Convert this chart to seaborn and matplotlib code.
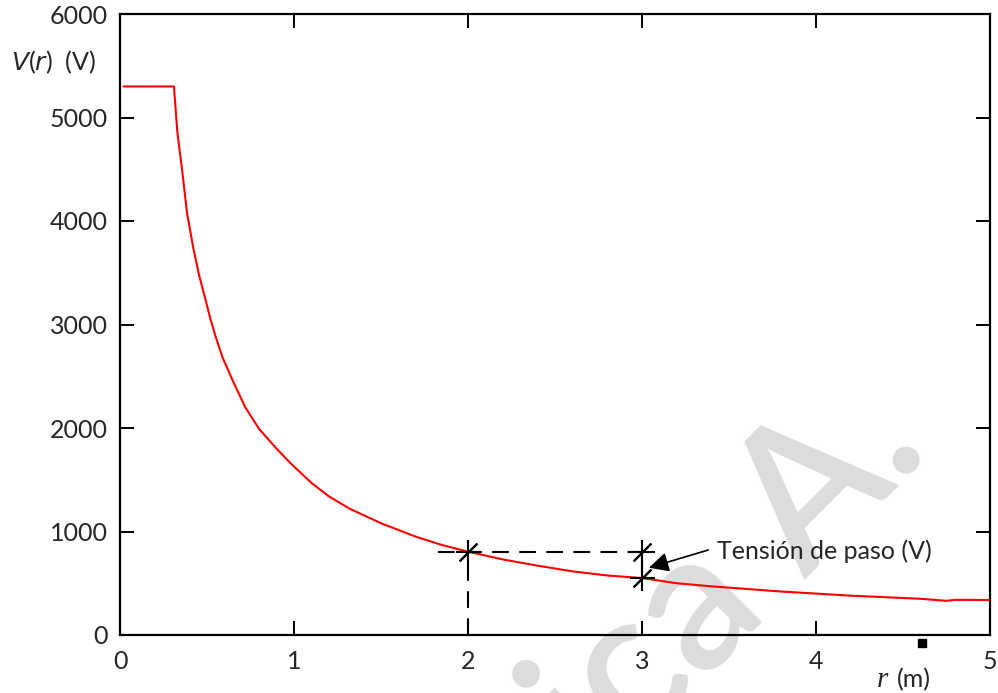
import numpy as np
import pandas as pd
import matplotlib
matplotlib.use('Agg')
import matplotlib.pyplot as plt
import seaborn as sns

# curve V(r)
r_m = [0.02, 0.30, 0.31, 0.33, 0.36, 0.385, 0.42, 0.454, 0.49, 0.517, 0.55,
       0.59, 0.65, 0.72, 0.80, 0.90, 0.98, 1.10, 1.20, 1.32, 1.50, 1.70,
       1.85, 2.00, 2.20, 2.40, 2.60, 2.80, 3.00, 3.20, 3.40, 3.60, 3.80,
       4.00, 4.20, 4.40, 4.60, 4.75, 4.80, 5.00]
v_volt = [5300, 5300, 5300, 4850, 4450, 4080, 3750, 3480, 3250, 3070, 2880,
          2680, 2450, 2200, 1990, 1800, 1660, 1470, 1340, 1220, 1080, 950,
          870, 805, 730, 670, 615, 575, 550, 500, 470, 445, 420,
          400, 380, 365, 350, 330, 340, 338]

# step voltage construction
step_r = [2, 3]
v_hi = 805
v_lo = 550
dash_start_r = 1.83
note_text = 'Tensión de paso (V)'
note_xy = (3.04, 650)
note_pos = (3.43, 812)

x_ticks = [0, 1, 2, 3, 4, 5]
y_ticks = [0, 1000, 2000, 3000, 4000, 5000, 6000]

df = pd.DataFrame({'r': r_m, 'V': v_volt})

sns.set_style('ticks')
plt.rcParams['font.family'] = ['Lato', 'DejaVu Sans']
fs = 18

fig = plt.figure(figsize=(9.98, 6.93), dpi=100)
ax = fig.add_axes([120 / 998, 1 - 635 / 693, 870 / 998, 621 / 693])

# watermark
ax.text(0.69, 0.11, 'nica A.', transform=fig.transFigure, rotation=45,
        fontsize=140, color='#dcdcdc', ha='center', va='center',
        weight='semibold', zorder=0.5, clip_on=False)

sns.lineplot(data=df, x='r', y='V', color='red', lw=1.5,
             estimator=None, sort=False, ax=ax, zorder=3)

# dashed guides and step segment
ax.plot([dash_start_r, step_r[1]], [v_hi, v_hi], color='k', lw=1.5,
        dashes=(8, 5), zorder=4)
ax.plot([step_r[0], step_r[0]], [0, v_hi], color='k', lw=1.5,
        dashes=(8, 5), zorder=4)
ax.plot([step_r[1], step_r[1]], [v_lo, v_hi], color='k', lw=1.5, zorder=4)

mark_r = [step_r[0], step_r[1], step_r[1]]
mark_v = [v_hi, v_hi, v_lo]
ax.plot(mark_r, mark_v, ls='none', marker='+', ms=18, mew=1.5,
        color='k', zorder=5)
ax.plot(mark_r, mark_v, ls='none', marker=(2, 2, -45), ms=18, mew=1.5,
        color='k', zorder=5)

ax.annotate(note_text, xy=note_xy, xytext=note_pos, fontsize=fs,
            va='center', ha='left',
            arrowprops=dict(arrowstyle='-|>', color='k', lw=1.2,
                            mutation_scale=30, shrinkA=4, shrinkB=0,
                            relpos=(0, 0.65)))

# small square below the axis
ax.plot([4.61], [-75], ls='none', marker='s', ms=6, color='k',
        clip_on=False, zorder=5)

ax.set_xlim(0, 5)
ax.set_ylim(0, 6000)
ax.set_xticks(x_ticks)
ax.set_yticks(y_ticks)
ax.set_xticklabels([str(t) for t in x_ticks])
ax.set_yticklabels([str(t) for t in y_ticks])
ax.tick_params(direction='in', length=10, width=1.4, labelsize=fs,
               top=True, right=True, color='k')
ax.tick_params(axis='x', pad=11)
ax.tick_params(axis='y', pad=9)
for s in ax.spines.values():
    s.set_linewidth(1.6)
    s.set_color('k')
ax.set_xlabel('')
ax.set_ylabel('')

ax.text(-0.125, 0.922, '$V$($r$)  (V)', transform=ax.transAxes,
        fontsize=fs, va='center', ha='left')
ax.text(0.870, -0.0725, 'r', transform=ax.transAxes, fontsize=21,
        family='Liberation Serif', style='italic', va='center', ha='left')
ax.text(0.893, -0.0725, '(m)', transform=ax.transAxes, fontsize=fs,
        va='center', ha='left')

plt.savefig('out.png', dpi=100)
